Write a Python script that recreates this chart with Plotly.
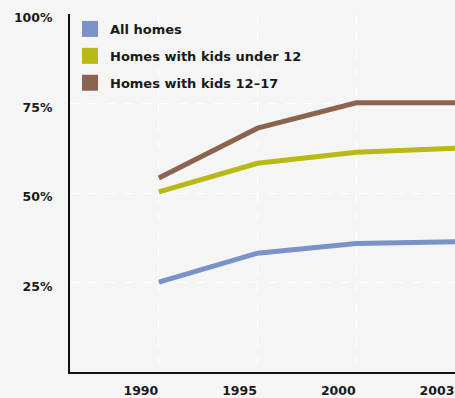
import plotly.graph_objects as go

years = ["1990", "1995", "2000", "2003"]
all_homes = [25.1, 33.2, 35.9, 36.4]
kids_under_12 = [50.3, 58.3, 61.4, 62.5]
kids_12_17 = [54.2, 68.1, 75.2, 75.2]
series_names = ["All homes", "Homes with kids under 12", "Homes with kids 12\u201317"]
colors = ["#7a92c8", "#b8b816", "#8b6450"]
ytick_vals = [25, 50, 75, 100]
ytick_text = ["25%", "50%", "75%", "100%"]

fig = go.Figure()
for name, vals, col in zip(series_names, [all_homes, kids_under_12, kids_12_17], colors):
    fig.add_trace(go.Scatter(x=years, y=vals, mode="lines", line=dict(color=col, width=5),
                             showlegend=False, hoverinfo="skip"))
for i, (name, col) in enumerate(zip(series_names, colors)):
    fig.add_trace(go.Scatter(x=[None], y=[None], mode="markers", name=name,
                             legendgroup="g%d" % i,
                             marker=dict(symbol="square", size=17, color=col)))

font_family = "DejaVu Sans"
fig.update_layout(
    width=455, height=398,
    margin=dict(l=70, r=0, t=14, b=26, pad=0, autoexpand=False),
    paper_bgcolor="#f5f5f5", plot_bgcolor="#f5f5f5",
    font=dict(family=font_family, size=12, color="#1a1a1a", weight="bold"),
    legend=dict(x=0.0, y=1.0, xanchor="left", yanchor="top", bgcolor="rgba(0,0,0,0)",
                font=dict(family=font_family, size=13, color="#1a1a1a", weight="bold"),
                itemsizing="trace", tracegroupgap=7, itemwidth=30),
)
fig.update_xaxes(type="category", categoryorder="array", categoryarray=years,
                 range=[-0.9, 3.0], showline=True, linecolor="#111", linewidth=2,
                 showgrid=True, gridcolor="white", griddash="dash", gridwidth=1,
                 ticks="", ticklabelshift=-18, ticklabelstandoff=6, zeroline=False,
                 automargin=False, tickfont=dict(size=12.5))
fig.update_yaxes(range=[0, 100], tickvals=ytick_vals, ticktext=ytick_text,
                 showline=True, linecolor="#111", linewidth=2,
                 showgrid=True, gridcolor="white", griddash="dash", gridwidth=1,
                 ticks="", ticklabelshift=4, ticklabelstandoff=13, zeroline=False,
                 automargin=False, tickfont=dict(size=12.5))

fig.write_html("out.html")
